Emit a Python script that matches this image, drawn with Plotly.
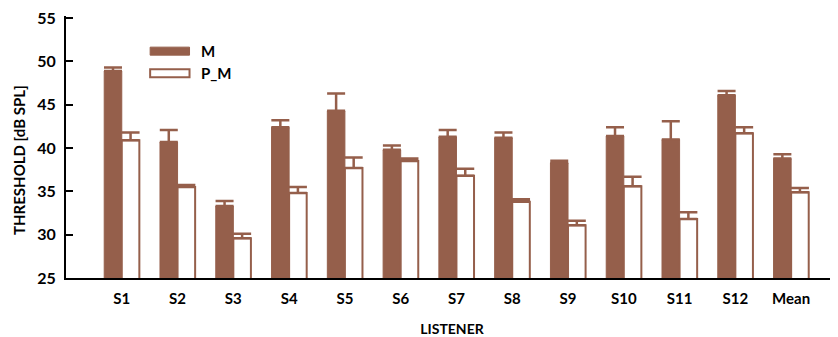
import plotly.graph_objects as go

categories = ["S1", "S2", "S3", "S4", "S5", "S6", "S7", "S8", "S9", "S10", "S11", "S12", "Mean"]
m_values = [48.9, 40.7, 33.3, 42.4, 44.3, 39.8, 41.3, 41.2, 38.3, 41.4, 41.0, 46.1, 38.8]
m_err = [0.4, 1.4, 0.6, 0.8, 2.0, 0.5, 0.8, 0.6, 0.25, 1.0, 2.1, 0.5, 0.5]
pm_values = [40.9, 35.5, 29.6, 34.8, 37.7, 38.5, 36.8, 33.8, 31.1, 35.6, 31.8, 41.7, 34.9]
pm_err = [0.9, 0.25, 0.5, 0.7, 1.2, 0.3, 0.8, 0.3, 0.5, 1.1, 0.8, 0.7, 0.5]
y_ticks = [25, 30, 35, 40, 45, 50, 55]

BROWN = "#955F4B"
FONT = "Lato"

Y_MIN, Y_MAX = 25, 55.25
PX_PER_UNIT = 260 / 30
extra_top = (Y_MAX - 55) * PX_PER_UNIT
plot_h = 260 + extra_top

def py(window_y):
    # convert a window y-pixel to paper fraction of the plot area
    return (278 - window_y) / plot_h

fig = go.Figure()
fig.add_trace(go.Bar(
    x=categories, y=m_values, name="M",
    marker=dict(color=BROWN, line=dict(color=BROWN, width=1)),
    error_y=dict(type="data", symmetric=False, array=m_err, arrayminus=[0]*len(m_err),
                 color=BROWN, thickness=2.5, width=9),
    showlegend=False,
))
fig.add_trace(go.Bar(
    x=categories, y=pm_values, name="P_M",
    marker=dict(color="white", line=dict(color=BROWN, width=2)),
    error_y=dict(type="data", symmetric=False, array=pm_err, arrayminus=[0]*len(pm_err),
                 color=BROWN, thickness=2.5, width=9),
    showlegend=False,
))

# legend drawn manually to match the wide swatches
fig.add_shape(type="rect", xref="paper", yref="paper", x0=0.109, x1=0.160, y0=py(55), y1=py(47),
              fillcolor=BROWN, line=dict(color=BROWN, width=1))
fig.add_shape(type="rect", xref="paper", yref="paper", x0=0.109, x1=0.160, y0=py(77), y1=py(69),
              fillcolor="white", line=dict(color=BROWN, width=2))
fig.add_annotation(xref="paper", yref="paper", x=0.172, y=py(51), text="<b>M</b>", showarrow=False,
                   xanchor="left", yanchor="middle", font=dict(family=FONT, size=15, color="black"))
fig.add_annotation(xref="paper", yref="paper", x=0.172, y=py(73), text="<b>P_M</b>", showarrow=False,
                   xanchor="left", yanchor="middle", font=dict(family=FONT, size=15, color="black"))

# y-axis title (placed slightly below centre, as in the reference)
fig.add_annotation(xref="paper", yref="paper", x=-0.061, y=py(160), text="<b>THRESHOLD [dB SPL]</b>",
                   textangle=-90, showarrow=False, xanchor="center", yanchor="middle",
                   font=dict(family=FONT, size=15, color="black"))

fig.update_layout(
    width=830, height=329,
    margin=dict(l=58, r=0, t=10 - extra_top, b=59),
    paper_bgcolor="white", plot_bgcolor="white",
    barmode="group", bargap=0.37, bargroupgap=0,
    font=dict(family=FONT, size=14, color="black"),
    xaxis=dict(
        range=[-1.0, 12.84], showline=True, linecolor="black", linewidth=2,
        ticks="", showgrid=False, zeroline=False, ticklabelstandoff=6,
        tickfont=dict(family=FONT, size=15, color="black", weight="bold"),
        title=dict(text="<b>LISTENER</b>", font=dict(family=FONT, size=14), standoff=18),
    ),
    yaxis=dict(
        range=[Y_MIN, Y_MAX], tickmode="array", tickvals=y_ticks, ticktext=[str(t) for t in y_ticks],
        showline=True, linecolor="black", linewidth=2,
        ticks="inside", ticklen=7, tickwidth=2, tickcolor="black", ticklabelstandoff=5,
        ticklabeloverflow="allow",
        showgrid=False, zeroline=False,
        tickfont=dict(family=FONT, size=16, color="black", weight="bold"),
    ),
)

fig.write_html("out.html")
